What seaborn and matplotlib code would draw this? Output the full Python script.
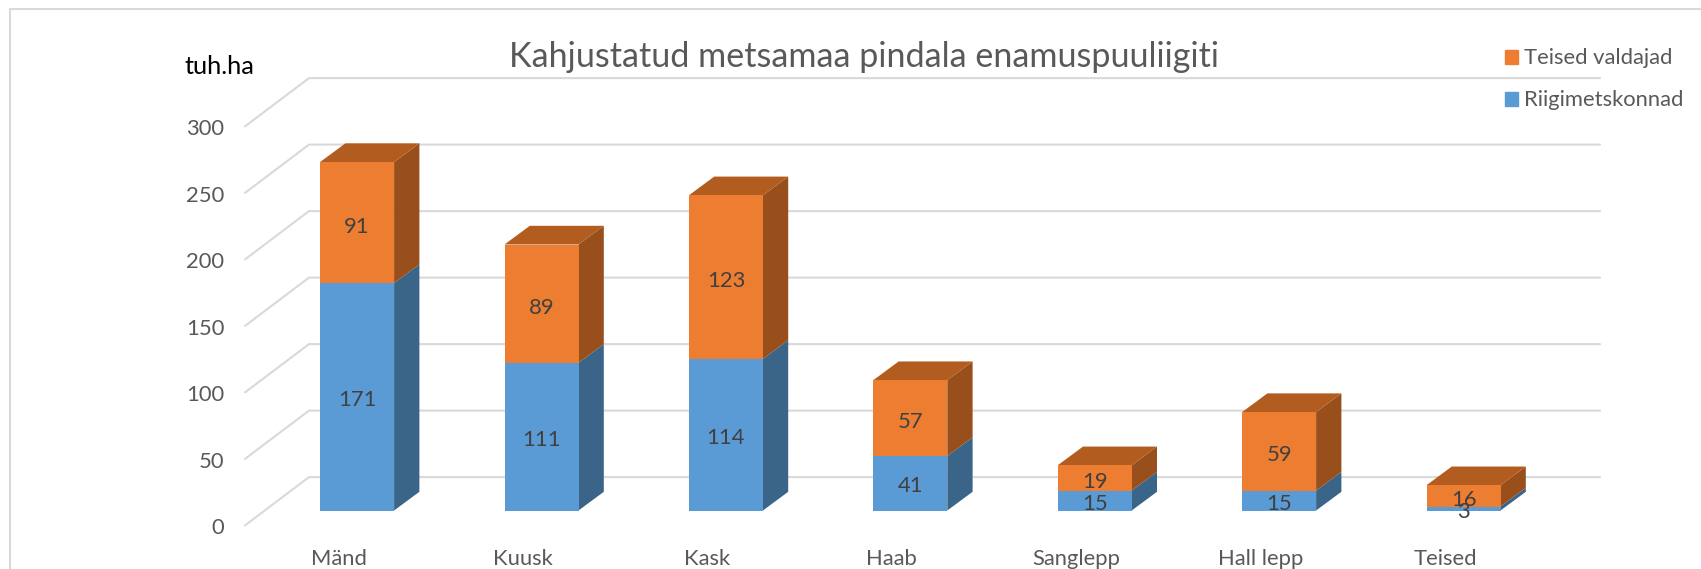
import matplotlib
matplotlib.use("Agg")
import matplotlib.pyplot as plt
from matplotlib.lines import Line2D
from matplotlib.patches import Patch
import numpy as np
import seaborn as sns

categories = ["Mänd", "Kuusk", "Kask", "Haab", "Sanglepp", "Hall lepp", "Teised"]
riigimetskonnad = [171, 111, 114, 41, 15, 15, 3]
teised_valdajad = [91, 89, 123, 57, 19, 59, 16]
y_ticks = [0, 50, 100, 150, 200, 250, 300]

W, H = 1701, 569
PX_CAT = 184.4      # pixels per category
PX_VAL = 1.33       # pixels per value unit
X0_PX, Y0_PX = 357.1, 510.5
L_PX, R_PX, T_PX, B_PX = 245, 1600, 78, 535
FLOOR_PX = 525.4

# oblique projection depths
WALL_DX = 64 / PX_CAT
WALL_DY = 48.3 / PX_VAL
FLOOR_FRONT = (Y0_PX - FLOOR_PX) / PX_VAL
BAR_DX = 25.3 / PX_CAT
BAR_DY = 18.7 / PX_VAL
BAR_W = 74 / PX_CAT

GRID = "#D9D9D9"
TXT = "#595959"
ORANGE, ORANGE_SIDE, ORANGE_TOP = "#ED7D31", "#984F1B", "#B35C20"
BLUE, BLUE_SIDE = "#5B9BD5", "#3A6488"

sns.set_theme(style="white")
plt.rcParams["font.family"] = ["Lato", "DejaVu Sans"]
FS = 15.8

fig = plt.figure(figsize=(W / 100, H / 100), dpi=100, facecolor="white")
ax = fig.add_axes([L_PX / W, 1 - B_PX / H, (R_PX - L_PX) / W, (B_PX - T_PX) / H])
ax.patch.set_alpha(0)

r = np.array(riigimetskonnad, float)
t = np.array(teised_valdajad, float)

sns.barplot(x=categories, y=r, color=BLUE, saturation=1, width=BAR_W, ax=ax, zorder=3, linewidth=0)
sns.barplot(x=categories, y=t, bottom=r, color=ORANGE, saturation=1, width=BAR_W, ax=ax, zorder=3, linewidth=0)

# axis text: ticks sit at the front of the floor, labels shifted from bars as in the 3D projection
LABEL_SHIFT = -18.5 / PX_CAT
YLABEL_SHIFT = -0.8
ax.set_xticks(np.arange(len(categories)) + LABEL_SHIFT, labels=categories)
ax.set_yticks(np.array(y_ticks) + FLOOR_FRONT + YLABEL_SHIFT, labels=[str(v) for v in y_ticks])
ax.tick_params(axis="x", length=0, pad=10, labelsize=FS, labelcolor=TXT)
ax.tick_params(axis="y", length=0, pad=15, labelsize=FS, labelcolor=TXT)

# limits last, so the ticks above cannot widen them
xlim = ((L_PX - X0_PX) / PX_CAT, (R_PX - X0_PX) / PX_CAT)
ylim = ((Y0_PX - B_PX) / PX_VAL, (Y0_PX - T_PX) / PX_VAL)

# back wall and side wall gridlines
floor_to_back = FLOOR_FRONT + WALL_DY
for v in y_ticks:
    back = v + floor_to_back
    ax.plot([xlim[0], xlim[0] + WALL_DX, xlim[1]], [v + FLOOR_FRONT, back, back],
            color=GRID, lw=1.5, zorder=1, clip_on=False, solid_joinstyle="miter")

# side and top faces of the bars
for i in range(len(categories)):
    xr = i + BAR_W / 2
    xl = i - BAR_W / 2
    low, mid, top = 0.0, r[i], r[i] + t[i]
    ax.fill([xr, xr + BAR_DX, xr + BAR_DX, xr], [low, low + BAR_DY, mid + BAR_DY, mid],
            color=BLUE_SIDE, lw=0, zorder=2.5)
    ax.fill([xr, xr + BAR_DX, xr + BAR_DX, xr], [mid, mid + BAR_DY, top + BAR_DY, top],
            color=ORANGE_SIDE, lw=0, zorder=2.5)
    ax.fill([xl, xr, xr + BAR_DX, xl + BAR_DX], [top, top, top + BAR_DY, top + BAR_DY],
            color=ORANGE_TOP, lw=0, zorder=2.5)

# data labels, nudged down a little as in the reference
for c, nudge in zip(ax.containers, [-2.2, -3.0]):
    for lab in ax.bar_label(c, label_type="center", color="#404040", fontsize=FS, zorder=5):
        lab.xyann = (0, nudge)

ax.set_xlim(*xlim)
ax.set_ylim(*ylim)

sns.despine(ax=ax, left=True, bottom=True)
ax.set_xlabel("")
ax.set_ylabel("tuh.ha", rotation=0, fontsize=18.3, color="black", ha="center", va="center")
ax.yaxis.set_label_coords((219 - L_PX) / (R_PX - L_PX), (B_PX - 66.4) / (B_PX - T_PX))

fig.suptitle("Kahjustatud metsamaa pindala enamuspuuliigiti", x=864 / W, y=1 - 57 / H,
             ha="center", va="center", fontsize=24.6, color=TXT)

fig.legend(handles=[Patch(color=ORANGE, label="Teised valdajad"), Patch(color=BLUE, label="Riigimetskonnad")],
           loc="upper left", bbox_to_anchor=(1505 / W, 1 - 48.5 / H), bbox_transform=fig.transFigure,
           frameon=False, fontsize=FS, labelcolor=TXT, handlelength=0.59, handleheight=0.59,
           handletextpad=0.27, labelspacing=1.0, borderpad=0, borderaxespad=0)

# outer chart frame
fig.add_artist(Line2D([9.5 / W, 9.5 / W, 1], [0, 1 - 8.7 / H, 1 - 8.7 / H], color=GRID, lw=1.5))

fig.savefig("out.png", dpi=100, facecolor="white")
